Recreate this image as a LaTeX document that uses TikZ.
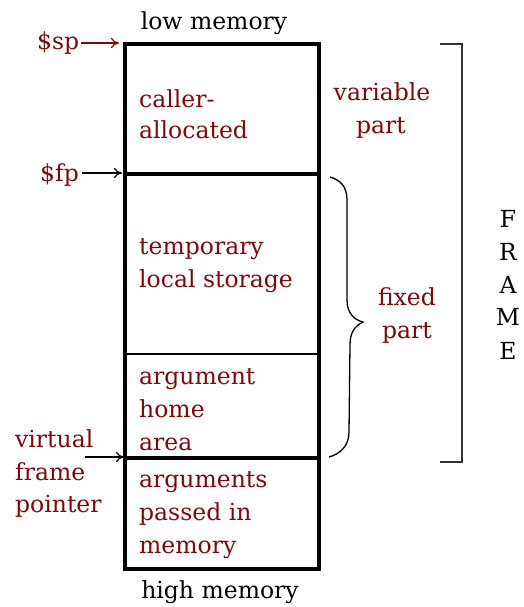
\documentclass[tikz,border=0pt]{standalone}
\usepackage{fontspec}
\setmainfont{DejaVu Serif}
\usetikzlibrary{arrows.meta}
\definecolor{maroon}{RGB}{128,8,8}
\tikzset{
  lbl/.style={inner sep=0pt, font=\fontsize{23.5}{33}\selectfont},
  red/.style={lbl, text=maroon},
  blk/.style={lbl, text=black},
  thick box/.style={line width=3.3pt, line cap=rect},
  ptr/.style={-{To[length=8pt,width=10pt]}, line width=1.2pt},
}
\begin{document}
\begin{tikzpicture}[x=1pt,y=-1pt]
\useasboundingbox (0,0) rectangle (524,607);
% box corners and divisions
\coordinate (tl) at (125,44);
\coordinate (tr) at (319,44);
\coordinate (bl) at (125,569);
\coordinate (br) at (319,569);
\coordinate (fpL) at (125,174);
\coordinate (fpR) at (319,174);
\coordinate (mL) at (125,354);
\coordinate (mR) at (319,354);
\coordinate (vL) at (125,458);
\coordinate (vR) at (319,458);
\draw[thick box] (tl) rectangle (br);
\draw[thick box] (fpL) -- (fpR);
\draw[line width=1.2pt] (mL) -- (mR);
\draw[thick box] (vL) -- (vR);

% top/bottom labels
\node[blk, anchor=base] (low) at (214,30) {low memory};
\node[blk, anchor=base] (high) at (220,598) {high memory};

% box contents
\node[red, anchor=base west] (c1) at (139,107) {caller-};
\node[red, anchor=base west] (c2) at (139,139) {allocated};
\node[red, anchor=base west] (t1) at (139,254) {temporary};
\node[red, anchor=base west] (t2) at (139,287) {local storage};
\node[red, anchor=base west] (a1) at (139,384) {argument};
\node[red, anchor=base west] (a2) at (139,417) {home};
\node[red, anchor=base west] (a3) at (139,450) {area};
\node[red, anchor=base west] (p1) at (139,487) {arguments};
\node[red, anchor=base west] (p2) at (139,520) {passed in};
\node[red, anchor=base west] (p3) at (139,553) {memory};

% pointers
\node[red, anchor=base west] (sp) at (37,50) {\$sp};
\node[red, anchor=base west] (fp) at (40,181) {\$fp};
\node[red, anchor=base west] (vf1) at (15,447) {virtual};
\node[red, anchor=base west] (vf2) at (15,480) {frame};
\node[red, anchor=base west] (vf3) at (15,512) {pointer};
\coordinate (spT) at (119,43);
\coordinate (fpT) at (122,173);
\coordinate (vfS) at (85,457);
\coordinate (vfT) at (124,457);
\draw[ptr, draw=maroon] (sp.east |- spT) ++(2pt,0) -- (spT);
\draw[ptr] (fp.east |- fpT) ++(3pt,0) -- (fpT);
\draw[ptr] (vfS) -- (vfT);

% right side labels
\node[red, anchor=base] (v1) at (382,101) {variable};
\node[red, anchor=base] (v2) at (381,133) {part};
\node[red, anchor=base] (f1) at (407,305) {fixed};
\node[red, anchor=base] (f2) at (407,338) {part};

% brace for fixed part
\draw[line width=1.3pt] (330,177) .. controls (340,180) and (347,186) .. (347,200)
  -- (347,300) .. controls (347,314) and (355,320) .. (363,322)
  .. controls (355,326) and (350,332) .. (350,345)
  -- (349,432) .. controls (349,446) and (340,454) .. (329,457);

% bracket for frame
\draw[line width=2pt, draw=black!80] (440,44) -- (462,44) -- (462,462) -- (440,462);

% FRAME
\node[blk, anchor=base] (F) at (508,227) {F};
\node[blk, anchor=base] (R) at (508,260) {R};
\node[blk, anchor=base] (A) at (508,293) {A};
\node[blk, anchor=base] (M) at (508,325) {M};
\node[blk, anchor=base] (E) at (508,359) {E};
\end{tikzpicture}
\end{document}
